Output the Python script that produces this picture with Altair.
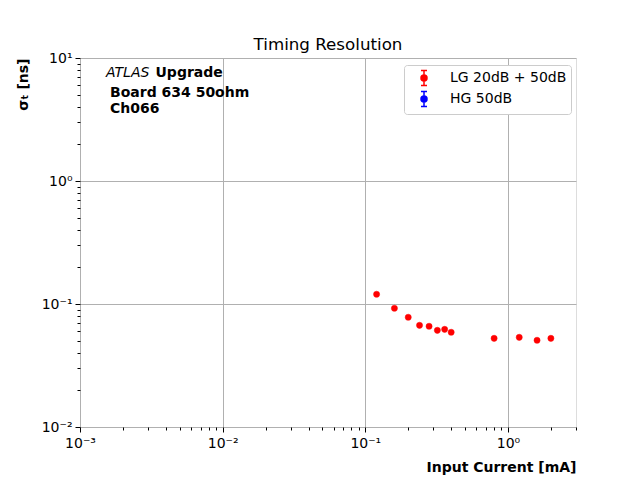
import altair as alt
import pandas as pd

# ---- data ----
current_mA = [0.12, 0.16, 0.20, 0.24, 0.28, 0.32, 0.36, 0.40, 0.80, 1.2, 1.6, 2.0]
sigma_ns = [0.120, 0.0923, 0.0780, 0.0671, 0.0659, 0.0611, 0.0622, 0.0589, 0.0526, 0.0536, 0.0507, 0.0526]
sigma_err = [0.002, 0.0015, 0.0012, 0.001, 0.001, 0.001, 0.001, 0.001, 0.0008, 0.0008, 0.0008, 0.0008]
series_names = ["LG 20dB + 50dB", "HG 50dB"]
series_colors = ["red", "blue"]
x_major = [0.001, 0.01, 0.1, 1]
y_major = [0.01, 0.1, 1, 10]
x_minor = [2e-3, 3e-3, 4e-3, 5e-3, 6e-3, 7e-3, 8e-3, 9e-3,
           2e-2, 3e-2, 4e-2, 5e-2, 6e-2, 7e-2, 8e-2, 9e-2,
           0.2, 0.3, 0.4, 0.5, 0.6, 0.7, 0.8, 0.9, 2, 3]
y_minor = [0.02, 0.03, 0.04, 0.05, 0.06, 0.07, 0.08, 0.09,
           0.2, 0.3, 0.4, 0.5, 0.6, 0.7, 0.8, 0.9,
           2, 3, 4, 5, 6, 7, 8, 9]
title_text = "Timing Resolution"
x_title = "Input Current [mA]"
y_title = "σₜ [ns]"
label_atlas = "ATLAS"
label_upgrade = "Upgrade"
label_lines = ["Board 634 50ohm", "Ch066"]

df = pd.DataFrame({
    "current": current_mA,
    "sigma": sigma_ns,
    "lo": [s - e for s, e in zip(sigma_ns, sigma_err)],
    "hi": [s + e for s, e in zip(sigma_ns, sigma_err)],
    "series": [series_names[0]] * len(current_mA),
})

FONT = "DejaVu Sans"
xscale = alt.Scale(type="log", domain=[0.001, 3], nice=False)
yscale = alt.Scale(type="log", domain=[0.01, 10], nice=False)
cscale = alt.Scale(domain=series_names, range=series_colors)

sup = ("datum.value < 0.005 ? '10⁻³' : datum.value < 0.05 ? '10⁻²' : "
       "datum.value < 0.5 ? '10⁻¹' : datum.value < 5 ? '10⁰' : '10¹'")

path_sym = ("M-0.4,0A0.4,0.4 0 1,0 0.4,0A0.4,0.4 0 1,0 -0.4,0Z"
            "M0,-1L0,1M-0.4,-1L0.4,-1M-0.4,1L0.4,1")

legend = alt.Legend(title=None, orient="none", legendX=324, legendY=7)

xaxis = alt.Axis(values=x_major, labelExpr=sup, grid=True, gridColor="#b0b0b0", gridWidth=1,
                 tickSize=5, tickColor="black", tickWidth=1, labelPadding=4, labelFlush=False,
                 labelFont=FONT, labelFontSize=14, labelFontWeight="normal", labelColor="black",
                 domain=False,
                 title=x_title, titleFont=FONT, titleFontSize=14, titleFontWeight="bold",
                 titleColor="black", titleAlign="right", titleBaseline="middle",
                 titleX=496, titleY=40, orient="bottom")
yaxis = alt.Axis(values=y_major, labelExpr=sup, grid=True, gridColor="#b0b0b0", gridWidth=1,
                 tickSize=5, tickColor="black", tickWidth=1, labelPadding=3, labelFlush=False,
                 labelFont=FONT, labelFontSize=14, labelFontWeight="normal", labelColor="black",
                 domain=False,
                 title=y_title, titleFont=FONT, titleFontSize=14, titleFontWeight="bold",
                 titleColor="black", titleAngle=270, titleAlign="right", titleBaseline="middle",
                 titleX=-57, titleY=0, orient="left")

base = alt.Chart(df)

points = base.mark_point(filled=True, size=38, opacity=1, strokeWidth=0.5).encode(
    x=alt.X("current:Q", scale=xscale, axis=xaxis),
    y=alt.Y("sigma:Q", scale=yscale, axis=yaxis),
    color=alt.Color("series:N", scale=cscale, legend=legend),
    stroke=alt.Stroke("series:N", scale=cscale, legend=legend),
)

minor = base.mark_point(opacity=0).encode(
    x=alt.X("current:Q", scale=xscale, axis=alt.Axis(
        values=x_minor, labels=False, grid=False, tickSize=3, tickColor="black",
        tickWidth=1, domain=False, title=None, orient="bottom")),
    y=alt.Y("sigma:Q", scale=yscale, axis=alt.Axis(
        values=y_minor, labels=False, grid=False, tickSize=3, tickColor="black",
        tickWidth=1, domain=False, title=None, orient="left")),
)

errs = base.mark_rule(color="red", strokeWidth=1.5).encode(
    x=alt.X("current:Q", scale=xscale, axis=None),
    y=alt.Y("lo:Q", scale=yscale, axis=None),
    y2="hi:Q",
)

t_atlas = alt.Chart(pd.DataFrame({"t": [label_atlas]})).mark_text(
    font=FONT, fontSize=14, fontStyle="italic", align="left", baseline="alphabetic",
    color="black").encode(x=alt.value(26), y=alt.value(19.3), text="t:N")
t_upg = alt.Chart(pd.DataFrame({"t": [label_upgrade]})).mark_text(
    font=FONT, fontSize=14, fontWeight="bold", align="left", baseline="alphabetic",
    color="black").encode(x=alt.value(75.5), y=alt.value(19.3), text="t:N")
t_l2 = alt.Chart(pd.DataFrame({"t": [label_lines[0]]})).mark_text(
    font=FONT, fontSize=14, fontWeight="bold", align="left", baseline="alphabetic",
    color="black").encode(x=alt.value(30), y=alt.value(38.7), text="t:N")
t_l3 = alt.Chart(pd.DataFrame({"t": [label_lines[1]]})).mark_text(
    font=FONT, fontSize=14, fontWeight="bold", align="left", baseline="alphabetic",
    color="black").encode(x=alt.value(30), y=alt.value(55.4), text="t:N")

chart = alt.layer(points, minor, errs, t_atlas, t_upg, t_l2, t_l3).resolve_axis(
    x="independent", y="independent"
).properties(
    width=496, height=369,
    title=alt.TitleParams(title_text, font=FONT, fontSize=16.7, fontWeight="normal",
                          color="black", anchor="middle", offset=-3),
    autosize=alt.AutoSizeParams(type="none"),
    padding={"left": 72, "top": 50, "right": 48, "bottom": 56},
).configure_view(stroke="black", strokeWidth=1.1).configure(background="white").configure_legend(
    padding=4.5, rowPadding=0, symbolSize=225, symbolOffset=7, symbolType=path_sym,
    labelOffset=17.5, labelFont=FONT, labelFontSize=14, labelColor="black",
    strokeColor="#cccccc", cornerRadius=3, fillColor="white",
    symbolStrokeWidth=1.5, symbolOpacity=1,
)

chart.save("out.html", embed_options={"renderer": "svg", "actions": False})
